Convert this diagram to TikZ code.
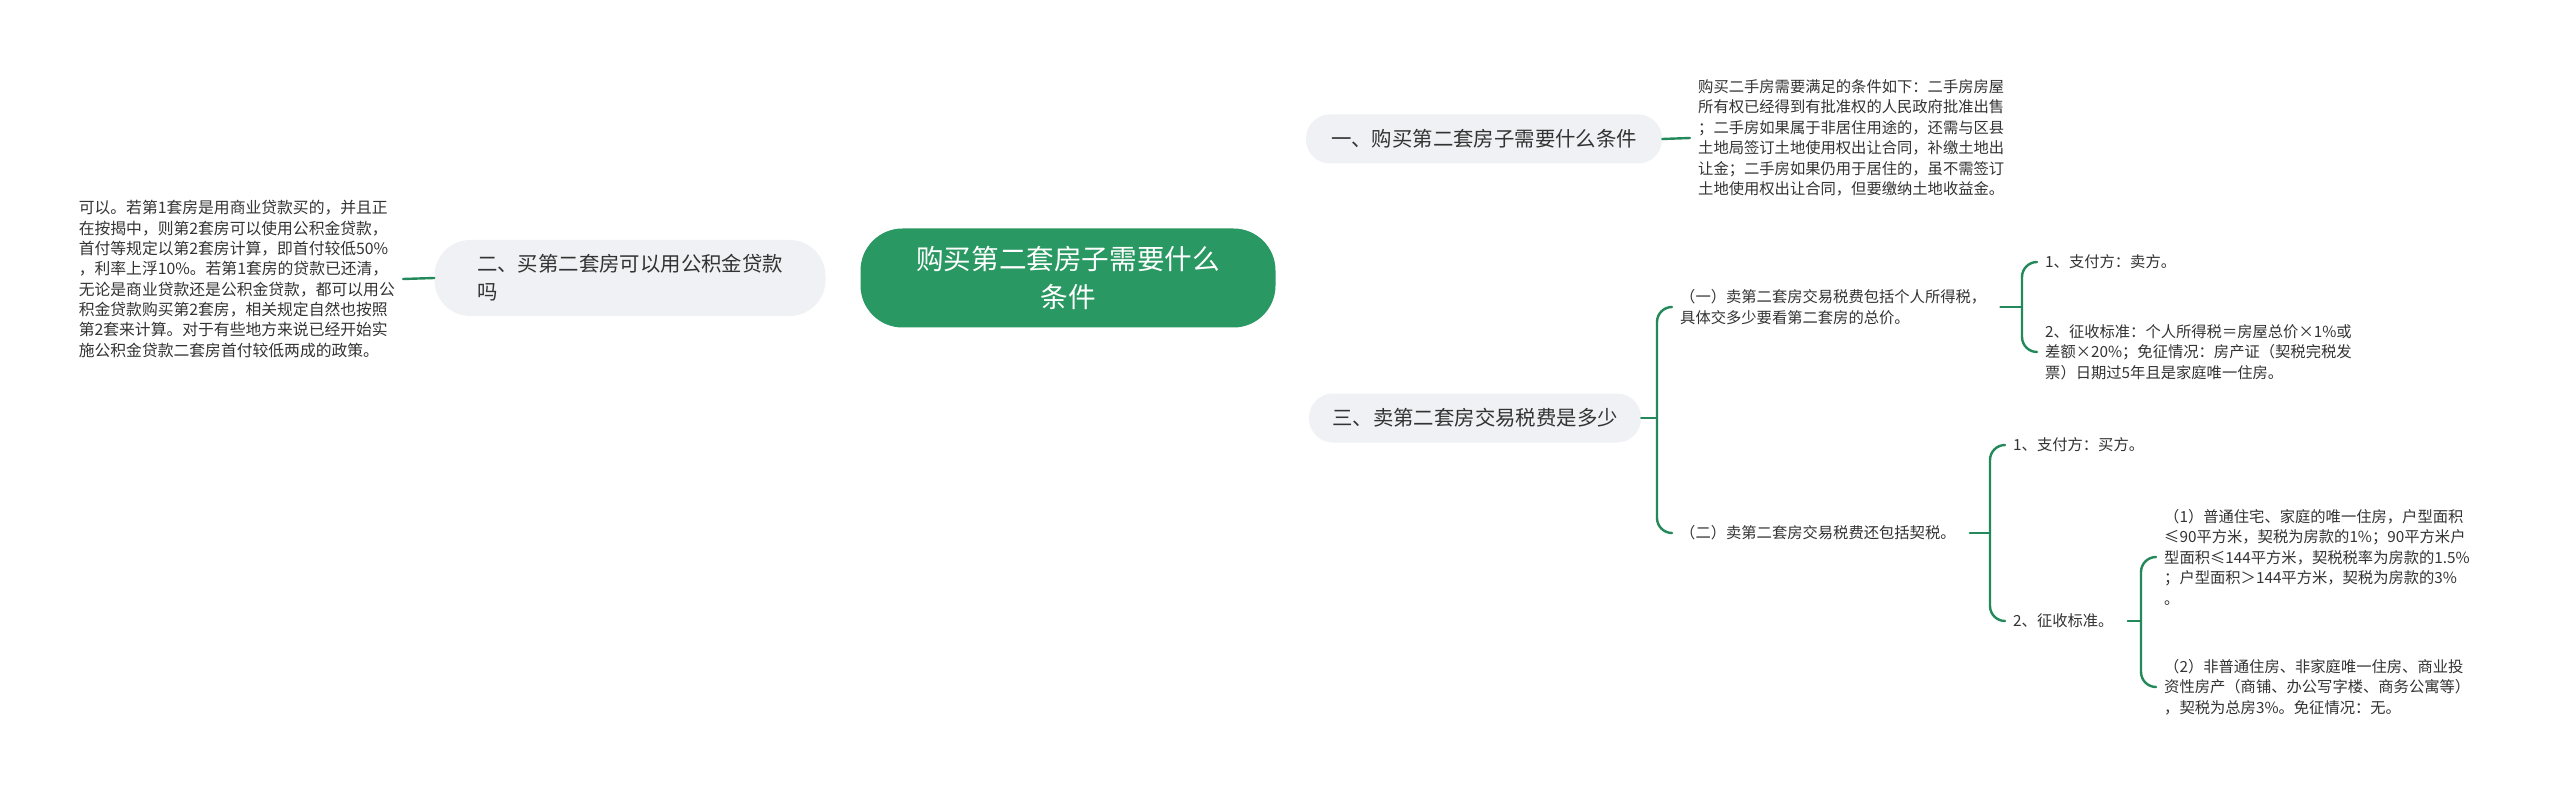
\documentclass[tikz,border=0pt]{standalone}
\usepackage{fontspec}
\setmainfont{Noto Sans CJK SC}
\usepackage{xcolor}
\usetikzlibrary{positioning, backgrounds}
\definecolor{rootgreen}{HTML}{2A9862}
\definecolor{linegreen}{HTML}{23895A}
\definecolor{topicgray}{HTML}{EFF1F4}
\definecolor{textdark}{HTML}{333333}
\tikzstyle{branch} = [line width=2.4pt, color=linegreen, line cap=round]

\begin{document}
\begin{tikzpicture}[x=1pt, y=-1pt,
    rootnode/.style={rectangle, rounded corners=42pt, minimum width=415pt, minimum height=99pt,
      fill=rootgreen, text=white, align=center, font=\fontsize{27.6pt}{38pt}\selectfont},
    topic/.style={rectangle, rounded corners=24pt, minimum height=49pt, fill=topicgray,
      text=textdark, align=left, font=\fontsize{20.4pt}{28pt}\selectfont},
    detail/.style={inner xsep=8pt, inner ysep=2pt, align=left, text=textdark,
      font=\fontsize{15.3pt}{20.5pt}\selectfont}
  ]
    \fill[white] (0,0) rectangle (2560,794);
    \useasboundingbox (0,0) rectangle (2560,794);

    % main topics
    \node[rootnode] (root) at (1068,278) {购买第二套房子需要什么\\条件};
    \node[topic, minimum width=356pt] (one) at (1484,139) {一、购买第二套房子需要什么条件};
    \node[topic, minimum width=391pt, minimum height=76pt, rounded corners=36pt] (two) at (630,278)
      {二、买第二套房可以用公积金贷款\\吗};
    \node[topic, minimum width=332pt] (three) at (1475,418) {三、卖第二套房交易税费是多少};

    % details
    \node[detail, anchor=west] (onetext) at (1690,138)
      {购买二手房需要满足的条件如下：二手房房屋\\所有权已经得到有批准权的人民政府批准出售\\；二手房如果属于非居住用途的，还需与区县\\土地局签订土地使用权出让合同，补缴土地出\\让金；二手房如果仍用于居住的，虽不需签订\\土地使用权出让合同，但要缴纳土地收益金。};
    \node[detail, anchor=east, font=\fontsize{15.8pt}{20.3pt}\selectfont] (twotext) at (403,279)
      {可以。若第1套房是用商业贷款买的，并且正\\在按揭中，则第2套房可以使用公积金贷款，\\首付等规定以第2套房计算，即首付较低50\%\\，利率上浮10\%。若第1套房的贷款已还清，\\无论是商业贷款还是公积金贷款，都可以用公\\积金贷款购买第2套房，相关规定自然也按照\\第2套来计算。对于有些地方来说已经开始实\\施公积金贷款二套房首付较低两成的政策。};
    \node[detail, anchor=west] (sella) at (1672,307)
      {（一）卖第二套房交易税费包括个人所得税，\\具体交多少要看第二套房的总价。};
    \node[detail, anchor=west] (sellb) at (1672,533) {（二）卖第二套房交易税费还包括契税。};
    \node[detail, anchor=west] (payera) at (2037,262) {1、支付方：卖方。};
    \node[detail, anchor=west] (ratea) at (2037,352)
      {2、征收标准：个人所得税＝房屋总价×1\%或\\差额×20\%；免征情况：房产证（契税完税发\\票）日期过5年且是家庭唯一住房。};
    \node[detail, anchor=west] (payerb) at (2005,445) {1、支付方：买方。};
    \node[detail, anchor=west] (rateb) at (2005,621) {2、征收标准。};
    \node[detail, anchor=west] (normal) at (2156,557)
      {（1）普通住宅、家庭的唯一住房，户型面积\\≤90平方米，契税为房款的1\%；90平方米户\\型面积≤144平方米，契税税率为房款的1.5\%\\；户型面积＞144平方米，契税为房款的3\%\\。};
    \node[detail, anchor=west] (other) at (2156,687)
      {（2）非普通住房、非家庭唯一住房、商业投\\资性房产（商铺、办公写字楼、商务公寓等）\\，契税为总房3\%。免征情况：无。};

    % forks
    \coordinate (forkthree) at (1657,418);
    \coordinate (forka) at (2022,307);
    \coordinate (forkb) at (1990,533);
    \coordinate (forkrate) at (2141,621);

    \begin{scope}[on background layer]
      \draw[branch] (root.center) .. controls (1085,150) and (1120,139) .. (one.west);
      \draw[branch] (root.center) .. controls (1085,406) and (1120,418) .. (three.west);
      \draw[branch] (root.west) -- (two.east);
    \end{scope}
    \draw[branch] (one.east) -- (onetext.west);
    \draw[branch] (two.west) -- (twotext.east);

    \draw[branch] (three.east) -- (forkthree);
    \draw[branch, rounded corners=15pt] (forkthree) |- (sella.west);
    \draw[branch, rounded corners=15pt] (forkthree) |- (sellb.west);

    \draw[branch] ([xshift=6pt]sella.east) -- (forka);
    \draw[branch, rounded corners=15pt] (forka) |- (payera.west);
    \draw[branch, rounded corners=15pt] (forka) |- (ratea.west);

    \draw[branch] ([xshift=6pt]sellb.east) -- (forkb);
    \draw[branch, rounded corners=15pt] (forkb) |- (payerb.west);
    \draw[branch, rounded corners=15pt] (forkb) |- (rateb.west);

    \draw[branch] ([xshift=6pt]rateb.east) -- (forkrate);
    \draw[branch, rounded corners=15pt] (forkrate) |- (normal.west);
    \draw[branch, rounded corners=15pt] (forkrate) |- (other.west);
  \end{tikzpicture}
\end{document}
